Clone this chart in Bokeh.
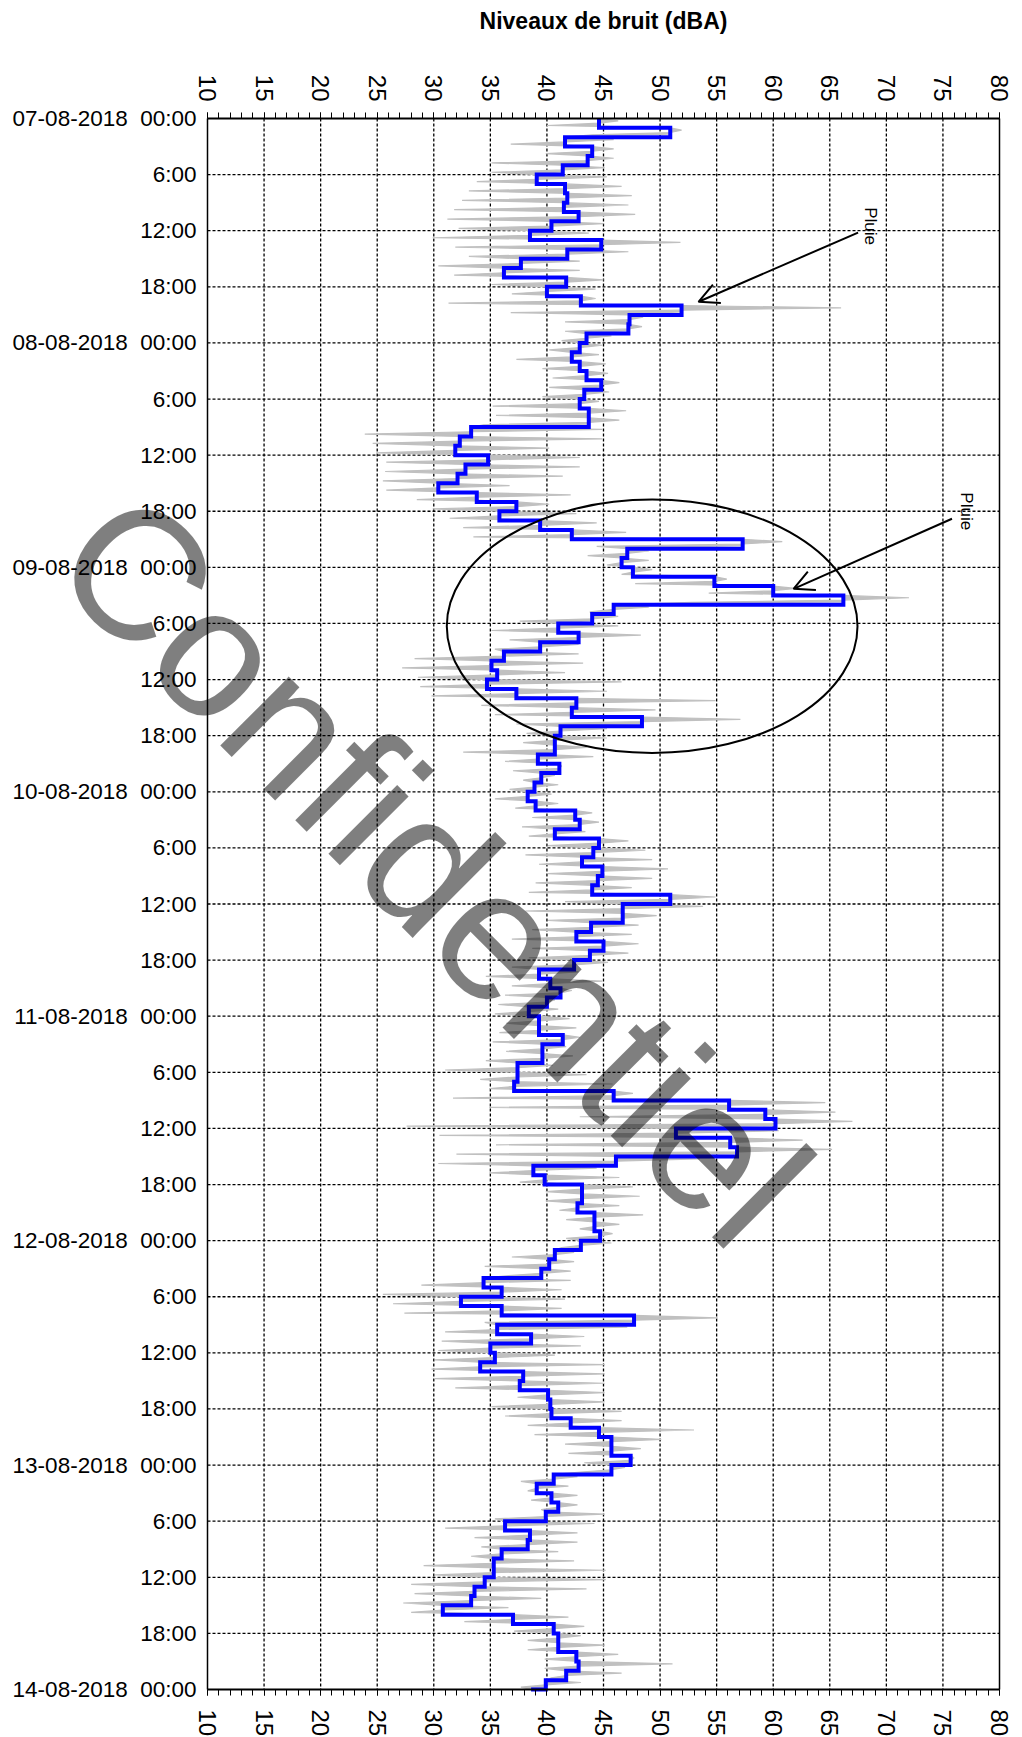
import math
from bokeh.plotting import figure
from bokeh.models import (Range1d, LinearAxis, SingleIntervalTicker, FixedTicker,
                          Arrow, OpenHead)
from bokeh.core.properties import value
from bokeh.embed import file_html
from bokeh.resources import INLINE

# ---------------- data ----------------
dates = ["07-08-2018", "08-08-2018", "09-08-2018", "10-08-2018",
         "11-08-2018", "12-08-2018", "13-08-2018", "14-08-2018"]
hour_labels = ["00:00", "6:00", "12:00", "18:00"]
db_ticks = [10, 15, 20, 25, 30, 35, 40, 45, 50, 55, 60, 65, 70, 75, 80]
title_text = "Niveaux de bruit (dBA)"

# hourly Leq (blue step line), one list per day, hour 0..23
leq_d1 = [44.6, 50.9, 41.6, 44.0, 43.6, 41.4, 39.1, 41.6, 41.8, 41.5, 42.8, 40.4,
          38.5, 44.8, 41.8, 37.7, 36.2, 41.7, 40.0, 43.0, 51.9, 47.3, 47.2, 43.5]
leq_d2 = [42.9, 42.2, 42.9, 43.5, 44.8, 43.3, 42.9, 43.7, 43.7, 33.3, 32.3, 31.9,
          34.8, 32.8, 32.1, 30.4, 33.8, 37.3, 35.8, 39.4, 42.2, 57.3, 47.1, 46.6]
leq_d3 = [47.6, 54.8, 60.0, 66.2, 45.9, 44.0, 41.0, 42.8, 39.4, 36.2, 35.1, 35.6,
          34.7, 37.3, 42.6, 42.2, 48.4, 41.2, 40.7, 40.7, 39.2, 41.1, 39.5, 38.9]
leq_d4 = [38.3, 39.0, 42.5, 42.9, 40.7, 44.6, 44.1, 43.1, 44.9, 44.5, 44.0, 50.9,
          46.7, 46.7, 43.9, 42.6, 45.0, 43.8, 42.4, 39.3, 40.3, 41.2, 40.0, 38.4]
leq_d5 = [39.3, 39.3, 41.4, 39.6, 39.6, 37.4, 37.4, 37.1, 45.9, 56.1, 59.3, 60.2,
          51.4, 56.2, 56.8, 46.1, 38.8, 39.8, 43.1, 43.1, 42.7, 44.2, 44.2, 44.7]
leq_d6 = [43.0, 40.7, 40.2, 39.5, 34.4, 36.0, 32.4, 36.0, 47.7, 35.6, 38.6, 35.0,
          35.4, 34.1, 37.9, 37.6, 40.1, 40.3, 40.4, 42.1, 44.6, 45.7, 45.7, 47.4]
leq_d7 = [45.7, 40.6, 39.1, 40.4, 41.0, 39.9, 36.3, 38.5, 38.3, 36.0, 35.3, 35.3,
          34.5, 33.6, 33.3, 30.8, 37.0, 40.6, 41.0, 41.0, 42.6, 42.8, 41.7, 39.9]
leq_end = [38.6]

# short-interval levels (grey): lowest and highest reading within each hour
low_d1 = [40.0, 44.0, 36.8, 39.9, 35.1, 35.1, 33.8, 33.1, 32.5, 31.8, 31.2, 32.2,
          29.9, 31.9, 33.1, 30.4, 31.8, 35.1, 36.9, 31.3, 36.8, 41.6, 41.6, 41.3]
high_d1 = [46.3, 51.9, 45.9, 45.9, 45.9, 45.1, 45.3, 46.6, 47.5, 47.2, 47.8, 45.0,
           43.7, 51.8, 47.2, 42.9, 42.9, 45.0, 44.3, 44.3, 66.0, 48.5, 48.4, 45.7]
low_d2 = [40.2, 37.3, 39.6, 40.5, 40.2, 39.6, 35.2, 35.5, 34.4, 23.9, 24.6, 24.9,
          25.8, 25.7, 25.5, 25.8, 28.5, 29.9, 31.4, 32.6, 33.5, 44.4, 43.6, 45.3]
high_d2 = [44.9, 44.6, 45.2, 45.4, 46.4, 45.5, 44.6, 47.0, 46.4, 44.9, 44.9, 40.2,
           42.9, 42.9, 41.4, 36.7, 42.1, 40.2, 42.6, 44.4, 47.0, 60.8, 49.0, 49.0]
low_d3 = [46.6, 47.8, 54.3, 52.8, 43.8, 37.6, 35.1, 36.7, 35.4, 28.3, 27.2, 28.6,
          28.8, 29.8, 34.2, 35.4, 37.3, 38.2, 37.9, 32.6, 36.3, 37.0, 37.9, 36.7]
high_d3 = [49.3, 55.9, 62.0, 72.0, 49.0, 46.3, 46.3, 48.3, 42.8, 42.8, 43.2, 41.6,
           46.6, 45.3, 54.9, 49.6, 57.1, 45.3, 45.3, 43.5, 44.1, 41.3, 40.7, 41.0]
low_d4 = [35.4, 37.2, 38.7, 37.8, 38.4, 40.1, 38.1, 39.3, 40.1, 39.0, 38.4, 41.6,
          38.1, 40.1, 38.7, 36.9, 38.7, 38.4, 36.9, 34.6, 36.9, 36.3, 35.7, 35.4]
high_d4 = [40.4, 41.0, 44.0, 44.6, 43.4, 47.2, 48.7, 49.3, 50.7, 49.3, 47.5, 54.9,
           53.8, 49.7, 48.1, 47.5, 48.1, 47.2, 45.4, 42.8, 44.9, 42.2, 40.7, 41.0]
low_d5 = [36.4, 35.8, 35.2, 36.4, 34.6, 31.0, 34.1, 34.9, 31.7, 34.9, 42.9, 27.6,
          30.5, 35.5, 32.0, 30.4, 34.9, 37.6, 39.9, 39.9, 41.1, 41.7, 42.9, 41.7]
high_d5 = [42.0, 42.6, 42.9, 41.7, 42.3, 40.5, 43.5, 45.8, 47.6, 64.6, 65.5, 67.0,
           60.5, 62.6, 65.2, 53.5, 44.4, 46.4, 47.6, 48.2, 46.4, 48.5, 46.4, 45.8]
low_d6 = [41.3, 36.9, 34.5, 36.6, 28.9, 25.5, 26.4, 27.4, 34.5, 31.0, 30.7, 30.4,
          30.1, 29.8, 30.1, 31.9, 37.4, 35.1, 36.3, 38.3, 38.9, 41.6, 41.9, 43.3]
high_d6 = [45.7, 42.4, 42.4, 42.1, 42.1, 41.3, 41.6, 41.3, 55.1, 47.1, 43.3, 43.0,
           40.7, 45.1, 45.1, 45.1, 45.1, 45.1, 46.6, 46.6, 53.0, 50.1, 48.3, 47.7]
low_d7 = [43.0, 37.7, 38.3, 38.6, 39.5, 35.4, 31.0, 33.6, 34.2, 33.3, 29.1, 30.1,
          28.0, 28.3, 27.3, 28.0, 32.7, 37.1, 38.3, 38.3, 39.8, 39.8, 40.4, 37.7]
high_d7 = [46.9, 42.7, 41.9, 42.7, 42.7, 45.1, 44.2, 42.7, 42.7, 41.0, 42.4, 45.2,
           45.2, 43.5, 39.5, 36.6, 41.9, 43.3, 43.0, 45.1, 46.3, 51.1, 46.6, 43.0]

# annotations (data units: dBA, hours since 07-08-2018 00:00)
rain_text_x = [68.6, 77.1]
rain_text_y = [11.5, 42.0]
rain_arrow_start = [(67.5, 12.2), (75.8, 42.8)]
rain_arrow_end = [(53.4, 19.6), (61.8, 50.3)]
circle_center = (49.3, 54.3)
circle_size = (36.3, 27.1)
watermark_pos = (30.0, 80.2)

# ---------------- layout constants (pixels) ----------------
LEFT_PX, PLOT_W, RIGHT_PX = 207, 792, 15
TOP_PX, PLOT_H, BOTTOM_PX = 118, 1571, 47
TITLE_PX = 20            # vertical centre of the title, from the top of the page
W = LEFT_PX + PLOT_W + RIGHT_PX
H = TOP_PX + PLOT_H + BOTTOM_PX

n_hours = 24 * 7
x_lo, x_hi = db_ticks[0], db_ticks[-1]
px_per_db = PLOT_W / (x_hi - x_lo)
px_per_h = PLOT_H / n_hours
# the frame covers the whole canvas; axes are pinned at the data edges
x_start = x_lo - LEFT_PX / px_per_db
x_end = x_hi + RIGHT_PX / px_per_db
y_top = -TOP_PX / px_per_h
y_bottom = n_hours + BOTTOM_PX / px_per_h
title_y = (TITLE_PX - TOP_PX) / px_per_h

# ---------------- assemble ----------------
leq = leq_d1 + leq_d2 + leq_d3 + leq_d4 + leq_d5 + leq_d6 + leq_d7 + leq_end
lows = low_d1 + low_d2 + low_d3 + low_d4 + low_d5 + low_d6 + low_d7
highs = high_d1 + high_d2 + high_d3 + high_d4 + high_d5 + high_d6 + high_d7

step_x, step_y = [], []
for h in range(n_hours):
    step_x += [leq[h], leq[h]]
    step_y += [h, h + 1]
step_x.append(leq[n_hours])
step_y.append(n_hours)

grey_y, grey_left, grey_right, grey_x = [], [], [], []
for h in range(n_hours):
    c = leq[h]
    grey_y += [h, h + 0.25, h + 0.5, h + 0.75]
    grey_left += [c, c, c, lows[h]]
    grey_right += [c, highs[h], c, c]
    grey_x += [c, highs[h], c, lows[h]]
grey_y.append(n_hours)
grey_left.append(leq[n_hours])
grey_right.append(leq[n_hours])
grey_x.append(leq[n_hours])

y_ticks = list(range(0, n_hours + 1, 6))
y_overrides = {}
for t in y_ticks:
    if t % 24 == 0:
        y_overrides[t] = dates[t // 24] + " \u00a0" + hour_labels[0]
    else:
        y_overrides[t] = hour_labels[(t % 24) // 6]

FONT = "Liberation Sans"

p = figure(width=W, height=H,
           x_range=Range1d(x_start, x_end), y_range=Range1d(y_bottom, y_top),
           output_backend="svg", toolbar_location=None,
           min_border_left=0, min_border_right=0,
           min_border_top=0, min_border_bottom=0,
           background_fill_color="white", border_fill_color="white",
           outline_line_color=None)

def style_x(ax, standoff, loc):
    ax.fixed_location = loc
    ax.bounds = (x_lo, x_hi)
    ax.ticker = SingleIntervalTicker(interval=5, num_minor_ticks=5)
    ax.major_label_orientation = -math.pi / 2
    ax.major_label_text_font = FONT
    ax.major_label_text_font_size = "24px"
    ax.major_label_text_color = "black"
    ax.major_label_standoff = standoff
    ax.major_tick_out = 6
    ax.major_tick_in = 0
    ax.minor_tick_out = 6
    ax.minor_tick_in = 0
    ax.axis_line_width = 2
    ax.axis_line_color = "black"
    ax.major_tick_line_color = "black"
    ax.minor_tick_line_color = "black"

style_x(p.xaxis[0], 14, n_hours)
top_axis = LinearAxis()
style_x(top_axis, 11, 0)
p.add_layout(top_axis, "above")

yax = p.yaxis[0]
yax.fixed_location = x_lo
yax.bounds = (0, n_hours)
yax.ticker = FixedTicker(ticks=y_ticks, minor_ticks=[])
yax.major_label_overrides = y_overrides
yax.major_label_text_font = FONT
yax.major_label_text_font_size = "22.5px"
yax.major_label_text_color = "black"
yax.major_label_standoff = 11
yax.major_tick_out = 0
yax.major_tick_in = 0
yax.minor_tick_out = 0
yax.axis_line_color = "black"
yax.axis_line_width = 1.5

p.xgrid.visible = False
p.ygrid.visible = False

# dashed grid limited to the plotting area
vx = db_ticks[1:-1]
p.segment(x0=vx, y0=[0] * len(vx), x1=vx, y1=[n_hours] * len(vx),
          line_color="black", line_dash="3 2", line_width=1.3)
hy = y_ticks[1:-1]
p.segment(x0=[x_lo] * len(hy), y0=hy, x1=[x_hi] * len(hy), y1=hy,
          line_color="black", line_dash="3 2", line_width=1.3)

p.harea(x1=grey_left, x2=grey_right, y=grey_y, fill_color="#c0c0c0")
p.line(grey_x, grey_y, line_color="#c0c0c0", line_width=1.2)
p.line(step_x, step_y, line_color="#0000ff", line_width=4, line_join="miter")

# right border of the plotting area
p.segment(x0=[x_hi], y0=[0], x1=[x_hi], y1=[n_hours], line_color="black", line_width=1.5)

p.text(x=[(x_lo + x_hi) / 2], y=[title_y], text=[title_text],
       text_align="center", text_baseline="middle", text_font=value(FONT),
       text_font_style="bold", text_font_size=value("23px"), text_color="black")

p.ellipse(x=[circle_center[0]], y=[circle_center[1]], width=circle_size[0],
          height=circle_size[1], fill_color=None, line_color="black", line_width=2)

for (xs, ys), (xe, ye) in zip(rain_arrow_start, rain_arrow_end):
    p.add_layout(Arrow(end=OpenHead(size=20, line_width=2, line_color="black"),
                       x_start=xs, y_start=ys, x_end=xe, y_end=ye,
                       line_color="black", line_width=2))

p.text(x=rain_text_x, y=rain_text_y, text=["Pluie", "Pluie"], angle=-90,
       angle_units="deg", text_font=value(FONT),
       text_font_size=value("17px"), text_color="black",
       text_align="center", text_baseline="middle")

p.text(x=[watermark_pos[0]], y=[watermark_pos[1]], text=["Confidentiel"],
       angle=-45, angle_units="deg", text_font=value(FONT),
       text_font_size=value("184px"), text_color="black", text_alpha=0.5,
       text_align="center", text_baseline="middle")

open("out.html", "w").write(file_html(p, INLINE))
